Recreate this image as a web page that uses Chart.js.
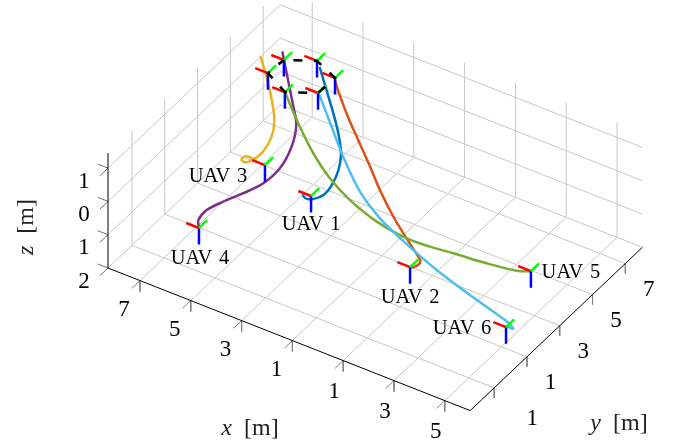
<!DOCTYPE html>
<html>
<head>
<meta charset="utf-8">
<style>html,body{margin:0;padding:0;background:#fff}canvas{display:block}</style>
<script src="https://cdn.jsdelivr.net/npm/chart.js@4"></script>
</head>
<body>
<canvas id="c" width="675" height="445"></canvas>
<script>
// ---- axis values ----
const xTicks = [7, 5, 3, 1, -1, -3, -5];
const yTicks = [-1, 1, 3, 5, 7];
const zTicks = [-1, 0, 1, 2];
const xTickLabels = ['7', '5', '3', '1', '1', '3', '5'];
const yTickLabels = ['1', '1', '3', '5', '7'];
const zTickLabels = ['1', '0', '1', '2'];
const xRange = [-6, 8.26];
const yRange = [-2.46, 8.04];
const zRange = [-1.45, 2];

// ---- trajectories: altitude profile shared by all six, then x and y ----
const pathZ = [0, 0, 0, -0.1, -0.2, -0.3, -0.45, -0.6, -0.7, -0.8, -0.9, -1];
const uav1X = [3.01, 2.88, 2.70, 2.45, 2.25, 2.22, 2.33, 2.61, 3.18, 3.81, 4.50, 5.30];
const uav1Y = [1.30, 1.22, 1.24, 1.29, 1.42, 1.83, 2.41, 3.00, 3.71, 4.38, 5.07, 5.88];
const uav2X = [-2.14, -2.23, -2.18, -2.06, -1.35, -0.39, 0.59, 1.40, 2.42, 3.29, 4.25, 4.53];
const uav2Y = [-0.03, 0.20, 0.42, 0.45, 0.88, 1.52, 2.24, 2.90, 3.75, 4.47, 5.35, 5.60];
const uav3X = [5.33, 5.60, 5.77, 5.68, 5.40, 5.16, 4.97, 5.02, 5.34, 5.90, 6.40, 7.27];
const uav3Y = [2.02, 2.08, 2.03, 1.68, 1.46, 1.58, 1.89, 2.50, 3.16, 3.87, 4.42, 5.32];
const uav4X = [4.98, 5.20, 5.26, 4.95, 4.54, 4.18, 4.01, 4.17, 4.58, 5.16, 5.93, 6.80];
const uav4Y = [-2.00, -1.69, -1.09, -0.56, 0.03, 0.69, 1.44, 2.40, 3.32, 4.02, 4.91, 5.92];
const uav5X = [-5.56, -5.14, -4.09, -2.97, -2.22, -1.43, -0.25, 0.98, 2.08, 3.18, 4.22, 5.57];
const uav5Y = [1.92, 1.70, 1.50, 1.21, 0.94, 0.75, 0.75, 1.02, 1.50, 2.19, 2.99, 4.16];
const uav6X = [-6.47, -6.75, -6.65, -6.46, -4.75, -3.19, -1.56, -0.39, 0.85, 2.25, 3.35, 4.56];
const uav6Y = [-1.00, -1.01, -0.92, -0.93, -0.54, -0.15, 0.34, 0.73, 1.43, 2.57, 3.57, 4.68];

// ---- poses: start of each UAV and the hexagon formation ----
const uavNames = ['UAV 1', 'UAV 2', 'UAV 3', 'UAV 4', 'UAV 5', 'UAV 6'];
const startX = [2.77, -2.07, 4.96, 4.95, -5.55, -6.50];
const startY = [1.42, -0.04, 2.00, -2.04, 1.94, -1.05];
const startZ = [0, 0, 0, 0, 0, 0];
const goalX = [6.54, 5.59, 4.59, 4.62, 5.57, 6.60];
const goalY = [5.60, 6.15, 5.70, 4.71, 4.16, 4.72];
const goalZ = [-1, -1, -1, -1, -1, -1];

const pathColors = ['#0072BD', '#D95319', '#EDB120', '#7E2F8E', '#77AC30', '#4DBEEE'];
const labelOffsets = [[0, 27], [0, 29], [-47, 10], [1, 29], [40, 0], [-44, 0]];

// ---- orthographic projection of the 3D axes onto the drawing plane ----
const PROJ = { ox: 108, oy: 268, ax: 25.4, ay: 10, bx: 16.4, by: 15.55, cz: 33.3 };
function proj(x, y, z) {
  const a = xRange[1] - x, b = y - yRange[0];
  return {
    x: PROJ.ox + PROJ.ax * a + PROJ.bx * b,
    y: PROJ.oy + PROJ.ay * a - PROJ.by * b + PROJ.cz * (z - zRange[1])
  };
}

const layers = [];
function seg(p, q, color, width, extra) {
  layers.push(Object.assign({
    data: [proj(p[0], p[1], p[2]), proj(q[0], q[1], q[2])],
    showLine: true, pointRadius: 0, borderColor: color, borderWidth: width, tension: 0
  }, extra || {}));
}
const GRID = '#c8c8c8', TICK = '#808080', ZTICK = '#606060';
const [x0, x1] = xRange, [y0, y1] = yRange, [zTop, zBot] = zRange;

// grid
xTicks.forEach(v => {
  seg([v, y0, zBot], [v, y1, zBot], GRID, 1);
  seg([v, y1, zBot], [v, y1, zTop], GRID, 1);
});
yTicks.forEach(v => {
  seg([x0, v, zBot], [x1, v, zBot], GRID, 1);
  seg([x1, v, zBot], [x1, v, zTop], GRID, 1);
});
zTicks.forEach(v => {
  seg([x1, y0, v], [x1, y1, v], GRID, 1);
  seg([x1, y1, v], [x0, y1, v], GRID, 1);
});

// axes and ticks
xTicks.forEach(v => {
  seg([v, y0, zBot], [v, y0, zBot + 0.33], TICK, 1);
  seg([v, y0, zBot], [v, y0 - 0.5, zBot], TICK, 1);
});
yTicks.forEach(v => {
  seg([x0, v, zBot], [x0, v, zBot + 0.3], TICK, 1);
});
zTicks.forEach(v => {
  seg([x1, y0, v], [x1 + 0.4, y0, v], ZTICK, 0.9);
  seg([x1, y0, v], [x1, y0 - 0.5, v], ZTICK, 0.9);
});
seg([x1, y0, zBot], [x0, y0, zBot], '#000', 1);
seg([x0, y0, zBot], [x0, y1, zBot], '#000', 1);
seg([x1, y0, zBot], [x1, y0, zTop], '#000', 1);

// trajectories
[[uav1X, uav1Y], [uav2X, uav2Y], [uav3X, uav3Y], [uav4X, uav4Y], [uav5X, uav5Y], [uav6X, uav6Y]]
  .forEach((p, i) => {
    layers.push({
      data: pathZ.map((z, k) => proj(p[0][k], p[1][k], z)),
      showLine: true, pointRadius: 0, borderColor: pathColors[i], borderWidth: 2.5,
      tension: 0.33, borderCapStyle: 'round'
    });
  });

// coordinate frames
function frame(x, y, z) {
  seg([x, y, z], [x, y, z + 0.5], '#0000ff', 2.5);
  seg([x, y, z], [x + 0.5, y, z], '#ff0000', 2.5);
  seg([x, y, z], [x, y + 0.5, z], '#00ff00', 2.5);
}
startX.forEach((v, i) => frame(v, startY[i], startZ[i]));
goalX.forEach((v, i) => frame(v, goalY[i], goalZ[i]));

// formation outline
layers.push({
  data: goalX.concat(goalX[0]).map((v, i) => proj(v, goalY[i % 6], goalZ[i % 6])),
  showLine: true, pointRadius: 0, borderColor: '#000', borderWidth: 2.6, tension: 0,
  borderDash: [9, 11.5], borderDashOffset: 11
});

// first dataset is painted last in Chart.js, so send back-to-front layers in reverse
const datasets = layers.slice().reverse();

const serif = "'Liberation Serif','Times New Roman',serif";
const textPlugin = {
  id: 'axisText',
  afterDraw(chart) {
    const { ctx, scales } = chart;
    const place = (p, dx, dy, s, size, gap) => {
      ctx.font = size + 'px ' + serif;
      ctx.wordSpacing = gap || '0px';
      ctx.textAlign = 'center';
      ctx.textBaseline = 'middle';
      ctx.fillText(s, scales.x.getPixelForValue(p.x) + dx, scales.y.getPixelForValue(p.y) + dy);
    };
    ctx.save();
    ctx.fillStyle = '#000';
    xTicks.forEach((v, i) => place(proj(v, y0, zBot), v < 0 ? -9 : -16, v < 0 ? 31.5 : 29.5, xTickLabels[i], 23));
    yTicks.forEach((v, i) => place(proj(x0, v, zBot), v < 0 ? 38 : 23.5, v < 0 ? 31.5 : 26, yTickLabels[i], 23));
    zTicks.forEach((v, i) => place(proj(x1, y0, v), -24, 13.5, zTickLabels[i], 23));
    startX.forEach((v, i) => place(proj(v, startY[i], startZ[i]), labelOffsets[i][0], labelOffsets[i][1] + 1.5, uavNames[i], 20.5, '1.5px'));

    const title = (sym, cx, cy, rot) => {
      ctx.save();
      ctx.translate(cx, cy);
      ctx.rotate(rot);
      ctx.wordSpacing = '0px';
      ctx.fillStyle = '#222';
      ctx.textBaseline = 'middle';
      ctx.textAlign = 'left';
      ctx.font = 'italic 24px ' + serif;
      const w1 = ctx.measureText(sym).width;
      ctx.font = '24px ' + serif;
      const rest = '  [m]';
      const w2 = ctx.measureText(rest).width;
      const left = -(w1 + w2) / 2;
      ctx.font = 'italic 24px ' + serif;
      ctx.fillText(sym, left, 0);
      ctx.font = '24px ' + serif;
      ctx.fillText(rest, left + w1, 0);
      ctx.restore();
    };
    title('x', 250, 429, 0);
    title('y', 619, 424, 0);
    title('z', 27, 227, -Math.PI / 2);
    ctx.restore();
  }
};

new Chart(document.getElementById('c'), {
  type: 'scatter',
  data: { datasets },
  plugins: [textPlugin],
  options: {
    responsive: false,
    animation: false,
    layout: { padding: 0 },
    plugins: { legend: { display: false }, tooltip: { enabled: false } },
    scales: {
      x: { type: 'linear', display: false, min: 0, max: 675 },
      y: { type: 'linear', display: false, min: 0, max: 445, reverse: true }
    }
  }
});
</script>
</body>
</html>
